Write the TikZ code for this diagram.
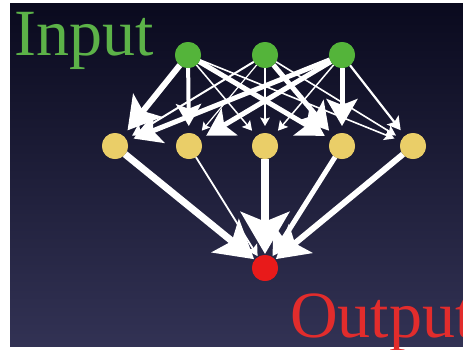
\documentclass[tikz,border=0pt]{standalone}
\usepackage{fontspec}
\setmainfont{Liberation Serif}
\usetikzlibrary{arrows.meta}
\definecolor{bgtop}{RGB}{10,10,30}
\definecolor{bgbot}{RGB}{50,50,84}
\definecolor{ingreen}{RGB}{92,178,72}
\definecolor{outred}{RGB}{226,44,44}
\definecolor{nodegreen}{RGB}{84,180,58}
\definecolor{nodeyellow}{RGB}{234,206,104}
\definecolor{nodered}{RGB}{232,26,26}
\tikzset{
  neuron/.style={circle, minimum size=26pt, inner sep=0pt, outer sep=0pt},
  inneuron/.style={neuron, fill=nodegreen},
  hidneuron/.style={neuron, fill=nodeyellow},
  outneuron/.style={neuron, fill=nodered},
  wedge/.style={draw=white, line width=#1,
    -{Stealth[length=2pt 5, width=2pt 5.8, inset=0pt 1.2]}},
  tohidden/.style={shorten >=7pt},
  tooutput/.style={shorten >=1pt},
  bigtext/.style={inner sep=0pt, anchor=base west, font=\fontsize{66}{66}\selectfont}
}
\begin{document}
\begin{tikzpicture}[x=1pt,y=-1pt]
  \useasboundingbox (0,0) rectangle (463,349);
  \fill[white] (0,0) rectangle (463,349);
  \shade[top color=bgtop, bottom color=bgbot] (10,3) rectangle (463,346);

  % layers
  \node[inneuron] (i1) at (188,55) {};
  \node[inneuron] (i2) at (265,55) {};
  \node[inneuron] (i3) at (342,55) {};
  \node[hidneuron] (h1) at (115,146) {};
  \node[hidneuron] (h2) at (189,146) {};
  \node[hidneuron] (h3) at (265,146) {};
  \node[hidneuron] (h4) at (342,146) {};
  \node[hidneuron] (h5) at (413,146) {};
  \node[outneuron] (o) at (265,268) {};

  % hidden -> output
  \begin{scope}[tooutput]
    \draw[wedge=7pt] (h1) -- (o);
    \draw[wedge=1.8pt] (h2) -- (o);
    \draw[wedge=8pt] (h3) -- (o);
    \draw[wedge=5pt] (h4) -- (o);
    \draw[wedge=6pt] (h5) -- (o);
  \end{scope}

  % input -> hidden
  \begin{scope}[tohidden]
    \draw[wedge=1.2pt] (i2) -- (h2);
    \draw[wedge=1.3pt] (i2) -- (h3);
    \draw[wedge=1.5pt] (i1) -- (h3);
    \draw[wedge=1.5pt] (i3) -- (h3);
    \draw[wedge=1.6pt] (i1) -- (h5);
    \draw[wedge=1.6pt] (i2) -- (h5);
    \draw[wedge=2.2pt] (i3) -- (h5);
    \draw[wedge=2pt] (i2) -- (h1);
    \draw[wedge=4pt] (i1) -- (h2);
    \draw[wedge=5pt] (i3) -- (h4);
    \draw[wedge=5pt] (i2) -- (h4);
    \draw[wedge=5pt] (i1) -- (h4);
    \draw[wedge=5pt] (i3) -- (h2);
    \draw[wedge=5pt] (i3) -- (h1);
    \draw[wedge=6pt] (i1) -- (h1);
  \end{scope}

  % neurons on top of the connectors
  \foreach \n in {i1,i2,i3} \fill[nodegreen] (\n) circle (13pt);
  \foreach \n in {h1,h2,h3,h4,h5} \fill[nodeyellow] (\n) circle (13pt);
  \fill[nodered] (o) circle (13pt);

  % labels
  \node[bigtext, text=ingreen] (inlabel) at (14,55) {Input};
  \node[bigtext, text=outred] (outlabel) at (290,337) {Output};
\end{tikzpicture}
\end{document}
